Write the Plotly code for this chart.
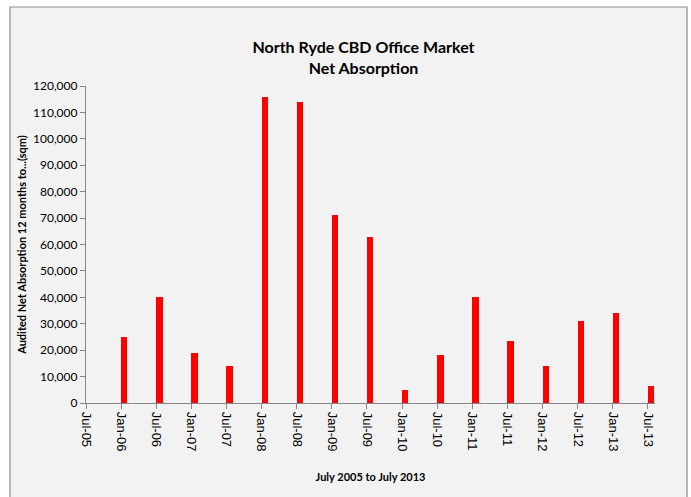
import plotly.graph_objects as go

# Half-yearly periods and audited net absorption (sqm)
periods = ["Jul-05", "Jan-06", "Jul-06", "Jan-07", "Jul-07", "Jan-08", "Jul-08",
           "Jan-09", "Jul-09", "Jan-10", "Jul-10", "Jan-11", "Jul-11", "Jan-12",
           "Jul-12", "Jan-13", "Jul-13"]
absorption = [0, 25000, 40000, 19000, 14000, 116000, 114000, 71000, 63000,
              5000, 18000, 40000, 23500, 14000, 31000, 34000, 6500]
y_ticks = list(range(0, 120001, 10000))

W, H = 691, 497
L, R, T, B = 86, 36, 86, 94
pw, ph = W - L - R, H - T - B

fig = go.Figure()
fig.add_trace(go.Bar(
    x=periods, y=absorption,
    width=0.18, offset=0,
    marker=dict(color="#ff0000", line=dict(width=0)),
    hoverinfo="x+y",
))

# Chart frame (light grey panel with a grey border)
def px_to_paper_x(px):
    return (px - L) / pw

def px_to_paper_y(py):
    return (H - B - py) / ph

fig.add_shape(type="rect", xref="paper", yref="paper",
              x0=px_to_paper_x(10), x1=px_to_paper_x(687),
              y0=px_to_paper_y(505), y1=px_to_paper_y(7),
              fillcolor="#f2f2f2", line=dict(color="#8c8c8c", width=1.2),
              layer="below")

axis_color = "#868686"
fig.update_layout(
    width=W, height=H,
    margin=dict(l=L, r=R, t=T, b=B, autoexpand=False),
    paper_bgcolor="white",
    plot_bgcolor="#f2f2f2",
    showlegend=False,
    bargap=0,
    title=dict(
        text="North Ryde CBD Office Market<br>Net Absorption",
        x=(L + pw / 2 - 7) / W, xanchor="center",
        y=1 - 53 / H, yanchor="middle",
        font=dict(family="Lato", size=16, color="black", weight="bold"),
    ),
    xaxis=dict(
        type="category",
        categoryorder="array", categoryarray=periods,
        range=[0, 16.2],
        tickmode="array", tickvals=periods, ticktext=periods,
        tickangle=90,
        ticks="outside", ticklen=5, tickcolor=axis_color,
        showline=True, linecolor=axis_color, linewidth=1.2,
        showgrid=False, zeroline=False,
        tickfont=dict(family="Liberation Sans", size=13, color="black"),
        title=dict(text="July 2005 to July 2013", standoff=22,
                   font=dict(family="Lato", size=11, color="black", weight="bold")),
        automargin=False,
    ),
    yaxis=dict(
        range=[0, 120000],
        tickmode="array", tickvals=y_ticks,
        tickformat=",",
        ticks="outside", ticklen=5, tickcolor=axis_color,
        showline=True, linecolor=axis_color, linewidth=1.2,
        showgrid=False, zeroline=False,
        tickfont=dict(family="Lato", size=12, color="black"),
        title=dict(text="Audited Net Absorption 12 months to...(sqm)", standoff=4,
                   font=dict(family="Lato", size=11, color="black", weight="bold")),
        automargin=False,
    ),
)

fig.write_html("out.html")
